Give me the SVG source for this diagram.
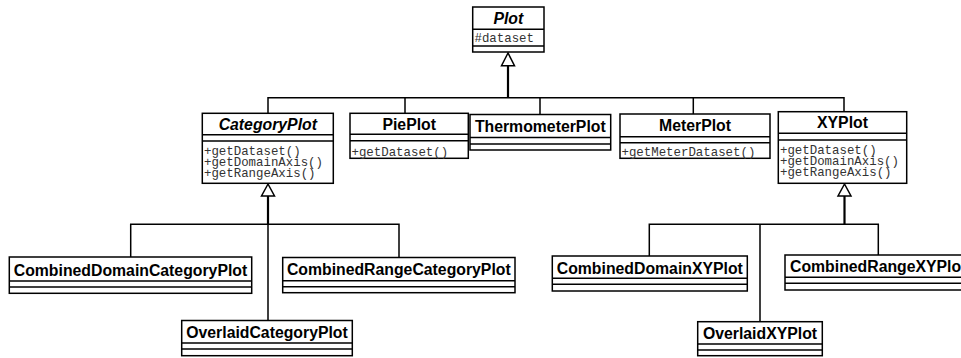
<svg xmlns="http://www.w3.org/2000/svg" width="961" height="358" viewBox="0 0 961 358">
<style>
.box{fill:#fff;stroke:#000;stroke-width:1.5}
.sep{stroke:#000;stroke-width:1.5}
.nm{font-family:"Liberation Sans",Arial,Helvetica,sans-serif;font-weight:bold;font-size:15.8px;fill:#000;text-anchor:middle}
.it{font-style:italic}
.mb{font-family:"Liberation Mono","Courier New",monospace;font-size:12.4px;fill:#333}
.ln{fill:none;stroke:#000;stroke-width:1.5}
.stem{fill:none;stroke:#000;stroke-width:2.2}
.tri{fill:#fff;stroke:#000;stroke-width:1.5}
</style>
<rect width="961" height="358" fill="#fff"/>
<g id="connectors">
  <path class="stem" d="M508,65.7 V97.7"/>
  <path class="ln" d="M268,113.3 V97.7 H844 V111.7 M405,97.7 V113.3 M540,97.7 V115 M693.3,97.7 V114"/>
  <polygon class="tri" points="508,53 501.5,65.7 514.5,65.7"/>
  <path class="stem" d="M268,196 V224.3"/>
  <path class="ln" d="M130.7,257 V224.3 H399 V257.5 M268,224.3 V320.5"/>
  <polygon class="tri" points="268,184 261.5,196 274.5,196"/>
  <path class="stem" d="M844.5,196 V224.3"/>
  <path class="ln" d="M649.3,256 V224.3 H878.3 V255 M760,224.3 V321.7"/>
  <polygon class="tri" points="844.5,184 838,196 851,196"/>
</g>
<g id="Plot">
  <rect class="box" x="472.7" y="7" width="71.3" height="45"/>
  <path class="sep" d="M472.7,29.3 H544 M472.7,46 H544"/>
  <text class="nm it" x="508.3" y="24">Plot</text>
  <text class="mb" x="474.5" y="41.5">#dataset</text>
</g>
<g id="CategoryPlot">
  <rect class="box" x="202.3" y="113.3" width="131" height="70"/>
  <path class="sep" d="M202.3,134.8 H333.3 M202.3,141 H333.3"/>
  <text class="nm it" x="267.8" y="130.3">CategoryPlot</text>
  <text class="mb" x="204" y="154.7">+getDataset()</text>
  <text class="mb" x="204" y="165.7">+getDomainAxis()</text>
  <text class="mb" x="204" y="176.7">+getRangeAxis()</text>
</g>
<g id="PiePlot">
  <rect class="box" x="350" y="113.3" width="118.3" height="45"/>
  <path class="sep" d="M350,134.3 H468.3 M350,140.7 H468.3"/>
  <text class="nm" x="409.2" y="130.3">PiePlot</text>
  <text class="mb" x="351.5" y="155.5">+getDataset()</text>
</g>
<g id="ThermometerPlot">
  <rect class="box" x="470" y="114.5" width="140.7" height="35.5"/>
  <path class="sep" d="M470,137.5 H610.7 M470,144 H610.7"/>
  <text class="nm" x="540.3" y="131.5">ThermometerPlot</text>
</g>
<g id="MeterPlot">
  <rect class="box" x="620" y="114" width="150" height="44.3"/>
  <path class="sep" d="M620,136.7 H770 M620,142.7 H770"/>
  <text class="nm" x="695" y="131">MeterPlot</text>
  <text class="mb" x="621.5" y="155.5">+getMeterDataset()</text>
</g>
<g id="XYPlot">
  <rect class="box" x="778.3" y="111.7" width="128.4" height="71.6"/>
  <path class="sep" d="M778.3,133.3 H906.7 M778.3,140 H906.7"/>
  <text class="nm" x="842.5" y="127.8">XYPlot</text>
  <text class="mb" x="780" y="154">+getDataset()</text>
  <text class="mb" x="780" y="165">+getDomainAxis()</text>
  <text class="mb" x="780" y="176">+getRangeAxis()</text>
</g>
<g id="CombinedDomainCategoryPlot">
  <rect class="box" x="9.3" y="257" width="242.4" height="36.3"/>
  <path class="sep" d="M9.3,281 H251.7 M9.3,287 H251.7"/>
  <text class="nm" x="130.5" y="275.5">CombinedDomainCategoryPlot</text>
</g>
<g id="CombinedRangeCategoryPlot">
  <rect class="box" x="282.7" y="257.5" width="232.3" height="35.2"/>
  <path class="sep" d="M282.7,280.7 H515 M282.7,286.7 H515"/>
  <text class="nm" x="398.8" y="274.5">CombinedRangeCategoryPlot</text>
</g>
<g id="OverlaidCategoryPlot">
  <rect class="box" x="181.7" y="320.5" width="170.6" height="35.2"/>
  <path class="sep" d="M181.7,343 H352.3 M181.7,349 H352.3"/>
  <text class="nm" x="267" y="338.3">OverlaidCategoryPlot</text>
</g>
<g id="CombinedDomainXYPlot">
  <rect class="box" x="552.3" y="256" width="195" height="35"/>
  <path class="sep" d="M552.3,278.3 H747.3 M552.3,284.3 H747.3"/>
  <text class="nm" x="649.8" y="273.5">CombinedDomainXYPlot</text>
</g>
<g id="CombinedRangeXYPlot">
  <rect class="box" x="785" y="255" width="195" height="35"/>
  <path class="sep" d="M785,277.3 H980 M785,283.3 H980"/>
  <text class="nm" x="790" y="272" style="text-anchor:start">CombinedRangeXYPlot</text>
</g>
<g id="OverlaidXYPlot">
  <rect class="box" x="697.7" y="321.7" width="124.6" height="34"/>
  <path class="sep" d="M697.7,344 H822.3 M697.7,350 H822.3"/>
  <text class="nm" x="760" y="339">OverlaidXYPlot</text>
</g>
</svg>
